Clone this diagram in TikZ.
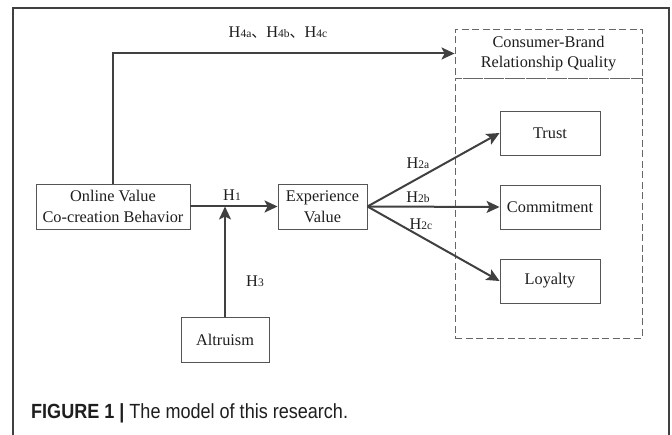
\documentclass[tikz,border=0pt]{standalone}
\usepackage{graphicx}
\usepackage{fontspec}
\setmainfont{Liberation Serif}
\newfontfamily\capfont{Liberation Sans}
\newfontfamily\cjk{Noto Sans CJK SC}
\usetikzlibrary{arrows.meta}
\definecolor{linec}{HTML}{404040}
\definecolor{boxc}{HTML}{555555}
\definecolor{dashc}{HTML}{666666}
\definecolor{txtc}{HTML}{1E1E1E}
\newcommand{\hsub}[1]{{\fontsize{11.5}{11.5}\selectfont #1}}
\newcommand{\cjkcomma}{{\cjk\fontsize{15}{15}\selectfont 、}}
\begin{document}
\begin{tikzpicture}[x=1pt,y=-1pt,
  box/.style={draw=boxc, line width=0.9pt, fill=white, minimum height=45pt, inner sep=0pt, align=center, font=\fontsize{16.3}{21}\selectfont, text=txtc},
  arr/.style={draw=linec, line width=2pt, -{Stealth[length=13pt,width=12pt,inset=3pt]}},
  dbox/.style={draw=dashc, line width=0.9pt, dash pattern=on 7pt off 3.5pt, inner sep=0pt},
  lab/.style={font=\fontsize{16.3}{16}\selectfont, inner sep=0pt, text=txtc}]
\useasboundingbox (0,0) rectangle (672,435);
\fill[white] (0,0) rectangle (672,435);
\draw[linec, line width=1.3pt] (13,435) -- (13,8) -- (669,8) -- (669,435);

% dashed group
\node[dbox, minimum width=187pt, minimum height=260pt] (group) at (548.5,208) {};
\node[dbox, minimum width=187pt, minimum height=49pt, align=center, font=\fontsize{16.3}{20}\selectfont, text=txtc] (title) at (548.5,53.5) {Consumer-Brand\\Relationship Quality};

% boxes
\node[box, minimum width=154pt] (online) at (113,206.5) {Online Value\\Co-creation Behavior};
\node[box, minimum width=89pt] (exp) at (322.5,206.5) {Experience\\Value};
\node[box, minimum width=88pt] (alt) at (225,339.5) {Altruism};
\node[box, minimum width=100pt, minimum height=44pt] (trust) at (550,133) {Trust};
\node[box, minimum width=100pt, minimum height=44pt] (commit) at (550,207) {Commitment};
\node[box, minimum width=100pt, minimum height=44pt] (loyal) at (550,281) {Loyalty};

% connectors
\draw[arr] (online.north) |- (title.west);
\draw[arr] (online.east) -- (exp.west);
\coordinate (h1mid) at (alt.north |- online.east);
\draw[arr] (alt.north) -- (h1mid);
\draw[arr] (exp.east) -- (trust.west);
\draw[arr] (exp.east) -- (commit.west);
\draw[arr] (exp.east) -- (loyal.west);

% labels
\node[lab] (h4) at (278,33) {H\hsub{4a}\cjkcomma H\hsub{4b}\cjkcomma H\hsub{4c}};
\node[lab] (h1) at (232,195) {H\hsub{1}};
\node[lab] (h3) at (255,281) {H\hsub{3}};
\node[lab] (h2a) at (418,163) {H\hsub{2a}};
\node[lab] (h2b) at (418,197) {H\hsub{2b}};
\node[lab] (h2c) at (421,224) {H\hsub{2c}};

% caption
\node[anchor=base west, inner sep=0pt, text=txtc] (cap) at (31,418) {\scalebox{0.88}[1]{\fontsize{20.5}{20.5}\capfont\textbf{FIGURE 1 |} The model of this research.}};
\end{tikzpicture}
\end{document}
